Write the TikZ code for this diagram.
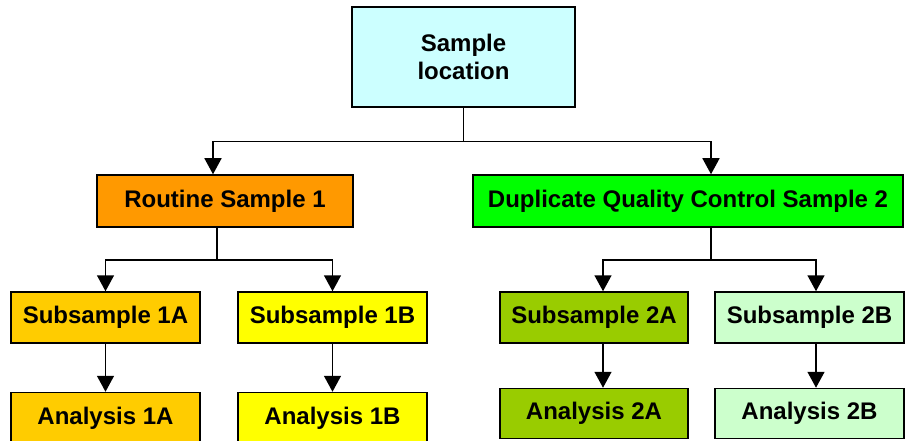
\documentclass[tikz,border=0pt]{standalone}
\usepackage{fontspec}
\setmainfont{Liberation Sans}
\usepackage{xcolor}
\usetikzlibrary{arrows.meta,positioning}
\definecolor{locblue}{HTML}{CCFFFF}
\definecolor{routorange}{HTML}{FF9900}
\definecolor{dupgreen}{HTML}{00FF00}
\definecolor{suborange}{HTML}{FFCC00}
\definecolor{subyellow}{HTML}{FFFF00}
\definecolor{subolive}{HTML}{99CC00}
\definecolor{submint}{HTML}{CCFFCC}

\begin{document}
\begin{tikzpicture}[x=1pt, y=-1pt,
  box/.style={draw, line width=1.5pt, minimum height=52pt, inner sep=0pt, font=\fontsize{24}{28}\selectfont\bfseries},
  sub/.style={box, minimum width=189pt, minimum height=51pt},
  link/.style={line width=1.5pt},
  flow/.style={link, -{Triangle[length=16pt,width=17pt]}}]
  \useasboundingbox (0,0) rectangle (905,441);

  \node[box, fill=locblue, minimum width=223pt, minimum height=100pt, align=center] (loc) at (463.5,57) {Sample\\location};
  \node[box, fill=routorange, minimum width=256pt] (routine) at (225,201) {Routine Sample 1};
  \node[box, fill=dupgreen, minimum width=430pt] (dup) at (688,201) {Duplicate Quality Control Sample 2};

  \node[sub, fill=suborange] (s1a) at (105.5,317.5) {Subsample 1A};
  \node[sub, fill=subyellow] (s1b) at (332.5,317.5) {Subsample 1B};
  \node[sub, fill=subolive, minimum width=188pt] (s2a) at (594,317.5) {Subsample 2A};
  \node[sub, fill=submint] (s2b) at (809.5,317.5) {Subsample 2B};

  \node[sub, fill=suborange, minimum height=52pt, below=48pt of s1a] (a1a) {Analysis 1A};
  \node[sub, fill=subyellow, minimum height=52pt, below=48pt of s1b] (a1b) {Analysis 1B};
  \node[sub, fill=subolive, minimum width=188pt, minimum height=50pt, below=44pt of s2a] (a2a) {Analysis 2A};
  \node[sub, fill=submint, minimum height=50pt, below=44pt of s2b] (a2b) {Analysis 2B};

  \draw[link] (loc.south) -- ++(0,34) coordinate (split0);
  \draw[flow] (split0) -| ([xshift=-12pt]routine.north);
  \draw[flow] (split0) -| ([xshift=23pt]dup.north);

  \draw[link] ([xshift=-8pt]routine.south) -- ++(0,32) coordinate (split1);
  \draw[flow] (split1) -| (s1a.north);
  \draw[flow] (split1) -| (s1b.north);
  \draw[link] ([xshift=23pt]dup.south) -- ++(0,32) coordinate (split2);
  \draw[flow] (split2) -| ([xshift=9pt]s2a.north);
  \draw[flow] (split2) -| ([xshift=6.5pt]s2b.north);

  \draw[flow] (s1a) -- (a1a);
  \draw[flow] (s1b) -- (a1b);
  \draw[flow] ([xshift=9pt]s2a.south) -- ([xshift=9pt]a2a.north);
  \draw[flow] ([xshift=6.5pt]s2b.south) -- ([xshift=6.5pt]a2b.north);
\end{tikzpicture}
\end{document}
